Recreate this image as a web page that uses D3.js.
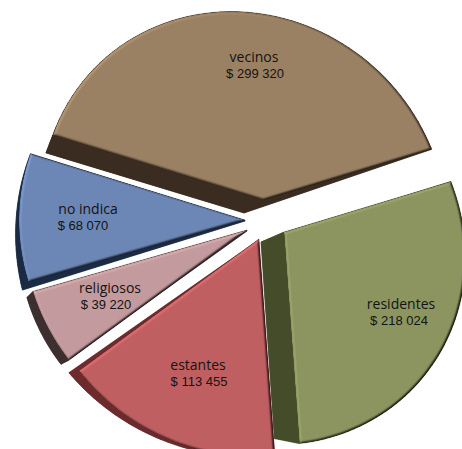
<!DOCTYPE html>
<html>
<head>
<meta charset="utf-8">
<script src="https://cdn.jsdelivr.net/npm/d3@7"></script>
<style>
  html, body { margin: 0; padding: 0; background: #fff; }
  svg { display: block; }
</style>
</head>
<body>
<svg id="chart"></svg>
<script>
// data
const categories = ["vecinos", "residentes", "estantes", "religiosos", "no indica"];
const values = [299320, 218024, 113455, 39220, 68070];

// styling per slice, same order as categories
const faceColors = ["#9b8163", "#8c9560", "#c05f61", "#c39a9d", "#6c86b5"];
const sideColors = ["#3a2c20", "#454c29", "#6d2b2d", "#3f3030", "#1b2b45"];

// explode offset of each slice from the hub
const explode = [[6, -22], [26, 10], [1, 17], [-11, 8], [-13, -2]];
const radiusFix = [0.985, 0.98, 1, 0.99, 1];
// extrusion at start corner / apex / end corner
const depthStart = [[-7, 18], [0, 0], [0, 0], [-8, 4], [-6, 8]];
const depthApex = [[-20, 13], [-23, 10], [-2, 2], [0, 1], [0, 1]];
const depthEnd = [[0, 0], [-25, -5], [-10, 2], [-6, 6], [0, 0]];
// labels relative to the slice apex
const labelOffset = [[-10, -138], [117, 77], [-61, 131], [-137, 63], [-157, -6]];
const valueShift = [1, -2, 1, -4, -5];

const width = 462, height = 449;
const hub = [258, 222];

const svg = d3.select("#chart").attr("width", width).attr("height", height);
const defs = svg.append("defs");

const bevel = defs.append("filter").attr("id", "bevel")
  .attr("x", "-5%").attr("y", "-5%").attr("width", "110%").attr("height", "110%")
  .attr("color-interpolation-filters", "sRGB");
bevel.append("feGaussianBlur").attr("in", "SourceAlpha").attr("stdDeviation", 1.1).attr("result", "blur");
bevel.append("feDiffuseLighting").attr("in", "blur").attr("surfaceScale", 2)
  .attr("diffuseConstant", 0.72).attr("lighting-color", "#fff").attr("result", "light")
  .append("feDistantLight").attr("azimuth", 215).attr("elevation", 60);
bevel.append("feComposite").attr("in", "SourceGraphic").attr("in2", "light")
  .attr("operator", "arithmetic").attr("k1", 1.6).attr("k2", 0).attr("k3", 0).attr("k4", 0).attr("result", "lit");
bevel.append("feComposite").attr("in", "lit").attr("in2", "SourceAlpha").attr("operator", "in");

// pie angles, clockwise from up
const pie = d3.pie().sort(null).startAngle(-72.5 * Math.PI / 180).endAngle(287.5 * Math.PI / 180);
const arcs = pie(values);

// tilted plane: straight lines stay straight, far side of the pie shrinks
function project(angle, t) {
  const u = Math.sin(angle) * t, v = -Math.cos(angle) * t;
  const w = 0.004941 + 0.000516 * u - 0.000317 * v;
  const x = u / w, y = v / w;
  return [x + 0.07 * y, y];
}

const line = d3.line().curve(d3.curveLinearClosed);

const slices = arcs.map((a, i) => {
  const o = [hub[0] + explode[i][0], hub[1] + explode[i][1]];
  const steps = d3.range(0, 61).map(k => k / 60);
  const rim = steps.map(k => {
    const p = project(a.startAngle + (a.endAngle - a.startAngle) * k, radiusFix[i]);
    return {
      p: [o[0] + p[0], o[1] + p[1]],
      d: [depthStart[i][0] * (1 - k) + depthEnd[i][0] * k, depthStart[i][1] * (1 - k) + depthEnd[i][1] * k]
    };
  });
  const outline = [{ p: o, d: depthApex[i] }].concat(rim);
  return { i, o, outline };
});

const g = svg.selectAll("g.slice").data(slices).join("g").attr("class", "slice");

// dark side: back polygon plus a quad per outline segment
g.each(function (s) {
  const side = d3.select(this).append("g").attr("fill", sideColors[s.i]).attr("stroke", sideColors[s.i]).attr("stroke-width", 0.4);
  const back = s.outline.map(q => [q.p[0] + q.d[0], q.p[1] + q.d[1]]);
  side.append("path").attr("d", line(back));
  s.outline.forEach((q, k) => {
    const n = s.outline[(k + 1) % s.outline.length];
    side.append("path").attr("d", line([q.p, n.p, [n.p[0] + n.d[0], n.p[1] + n.d[1]], [q.p[0] + q.d[0], q.p[1] + q.d[1]]]));
  });
});

g.append("path")
  .attr("d", s => line(s.outline.map(q => q.p)))
  .attr("fill", s => faceColors[s.i])
  .attr("filter", "url(#bevel)");

const money = d3.formatLocale({ decimal: ",", thousands: " ", grouping: [3], currency: ["$ ", ""] }).format("$,");

const labels = svg.selectAll("g.label").data(slices).join("g").attr("class", "label")
  .attr("transform", s => `translate(${s.o[0] + labelOffset[s.i][0]},${s.o[1] + labelOffset[s.i][1]})`)
  .attr("text-anchor", "middle").attr("fill", "#15130f");

labels.append("text")
  .attr("font-family", "'Open Sans', sans-serif").attr("font-size", 14)
  .text(s => categories[s.i]);

labels.append("text")
  .attr("x", s => valueShift[s.i]).attr("y", 16)
  .attr("font-family", "'Liberation Sans', sans-serif").attr("font-size", 13)
  .text(s => money(values[s.i]));
</script>
</body>
</html>
